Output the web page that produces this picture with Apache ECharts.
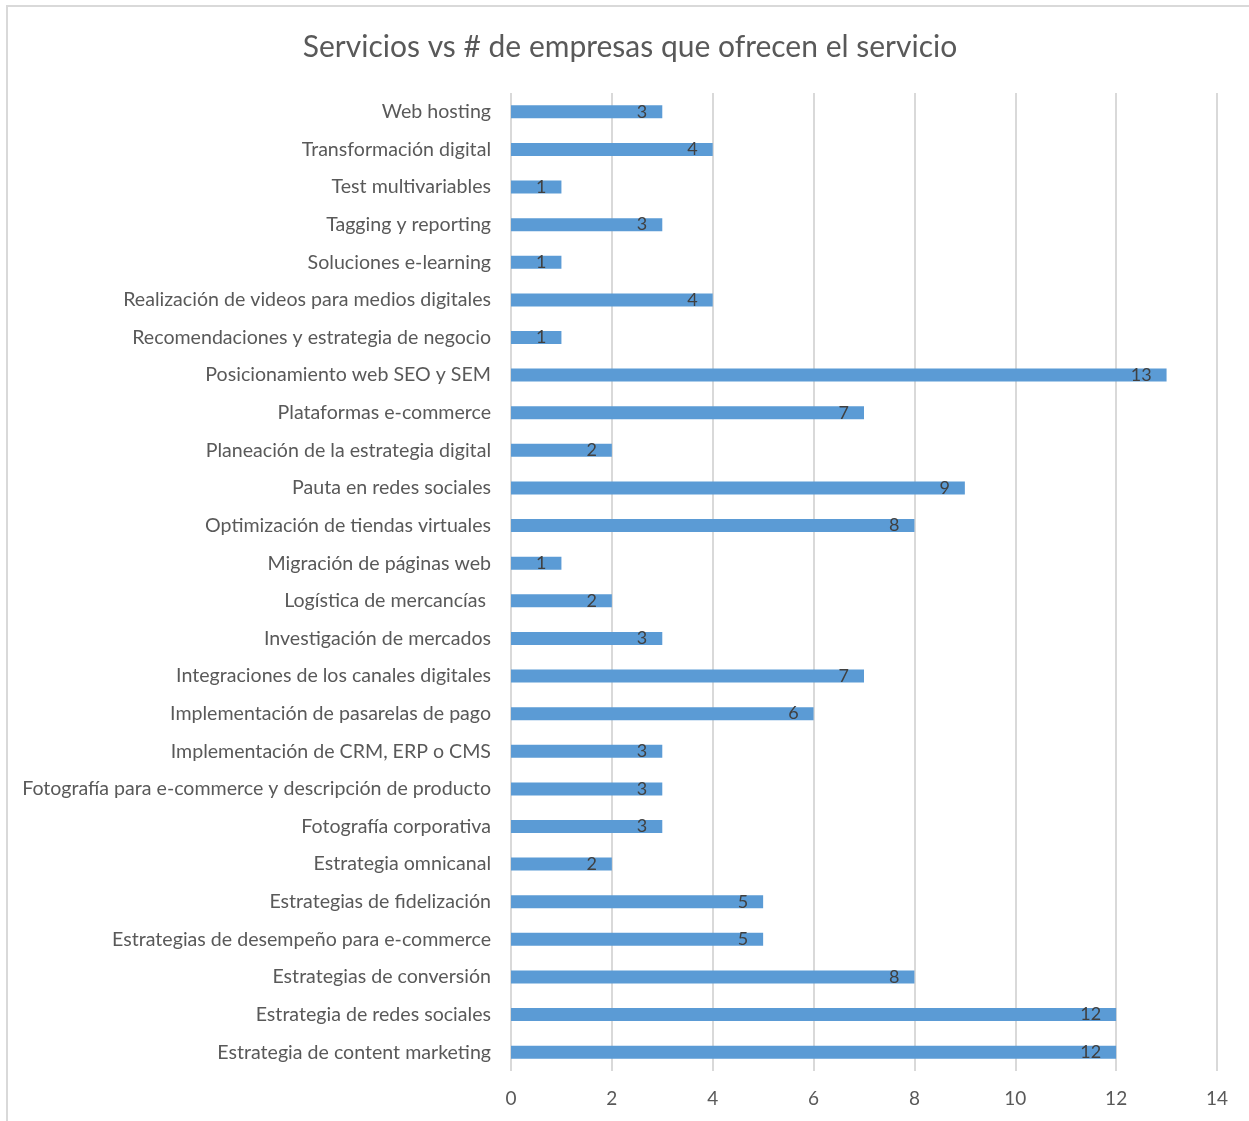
<!DOCTYPE html>
<html>
<head>
<meta charset="utf-8">
<script src="https://cdn.jsdelivr.net/npm/echarts@6/dist/echarts.min.js"></script>
<style>
  html, body { margin: 0; padding: 0; background: #ffffff; }
  #chart { width: 1249px; height: 1121px; }
</style>
</head>
<body>
<div id="chart"></div>
<script>
// Services offered, listed top to bottom
const categories = [
  'Web hosting',
  'Transformación digital',
  'Test multivariables',
  'Tagging y reporting',
  'Soluciones e-learning',
  'Realización de videos para medios digitales',
  'Recomendaciones y estrategia de negocio',
  'Posicionamiento web SEO y SEM',
  'Plataformas e-commerce',
  'Planeación de la estrategia digital',
  'Pauta en redes sociales',
  'Optimización de tiendas virtuales',
  'Migración de páginas web',
  'Logística de mercancías ',
  'Investigación de mercados',
  'Integraciones de los canales digitales',
  'Implementación de pasarelas de pago',
  'Implementación de CRM, ERP o CMS',
  'Fotografía para e-commerce y descripción de producto',
  'Fotografía corporativa',
  'Estrategia omnicanal',
  'Estrategias de fidelización',
  'Estrategias de desempeño para e-commerce',
  'Estrategias de conversión',
  'Estrategia de redes sociales',
  'Estrategia de content marketing'
];

// Number of companies offering each service
const companies = [3, 4, 1, 3, 1, 4, 1, 13, 7, 2, 9, 8, 1, 2, 3, 7, 6, 3, 3, 3, 2, 5, 5, 8, 12, 12];

const titleText = 'Servicios vs # de empresas que ofrecen el servicio';
const FONT = 'Lato, "Open Sans", sans-serif';

const chart = echarts.init(document.getElementById('chart'), null, { renderer: 'canvas' });

chart.setOption({
  backgroundColor: '#ffffff',
  animation: false,
  title: {
    text: titleText,
    left: 625,
    textAlign: 'center',
    top: 27,
    textStyle: { fontFamily: FONT, fontSize: 30, fontWeight: 'normal', color: '#595959' }
  },
  graphic: [
    { type: 'line', shape: { x1: 6, y1: 6, x2: 1249, y2: 6 }, style: { stroke: '#d9d9d9', lineWidth: 2 } },
    { type: 'line', shape: { x1: 7, y1: 6, x2: 7, y2: 1121 }, style: { stroke: '#d9d9d9', lineWidth: 2 } }
  ],
  grid: { left: 511, right: 32, top: 93, bottom: 50, containLabel: false },
  xAxis: {
    type: 'value',
    min: 0,
    max: 14,
    interval: 2,
    axisLine: { show: false },
    axisTick: { show: false },
    axisLabel: { color: '#595959', fontFamily: FONT, fontSize: 19, margin: 18 },
    splitLine: { show: true, lineStyle: { color: '#d9d9d9', width: 2 } }
  },
  yAxis: {
    type: 'category',
    data: categories,
    inverse: true,
    axisLine: { show: false },
    axisTick: { show: false },
    axisLabel: { color: '#595959', fontFamily: FONT, fontSize: 19.6, margin: 20 },
    splitLine: { show: false }
  },
  series: [{
    type: 'bar',
    data: companies,
    barWidth: 13,
    itemStyle: { color: '#5b9bd5' },
    label: {
      show: true,
      position: 'insideRight',
      distance: 15,
      color: '#404040',
      fontFamily: FONT,
      fontSize: 18
    }
  }]
});
</script>
</body>
</html>
